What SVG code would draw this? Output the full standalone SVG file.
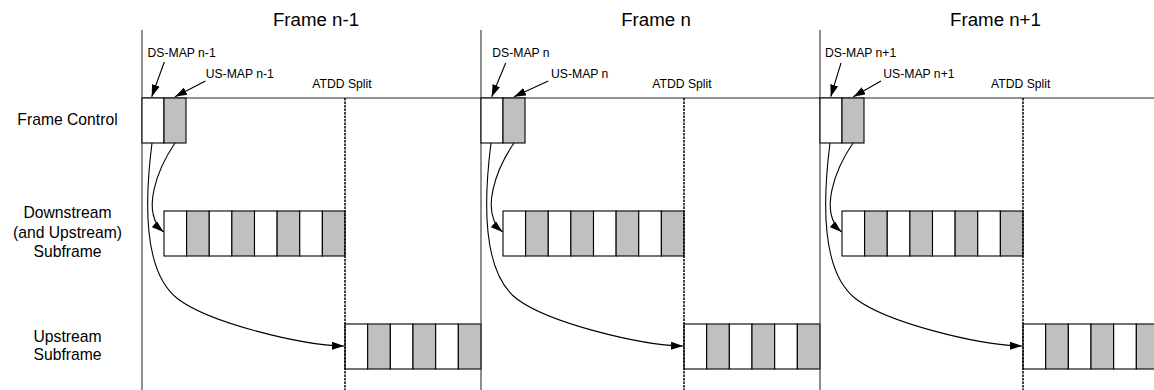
<svg xmlns="http://www.w3.org/2000/svg" width="1154" height="390" viewBox="0 0 1154 390">
<defs>
<marker id="ah" viewBox="0 0 12 8" refX="12" refY="4" markerWidth="12" markerHeight="8" markerUnits="userSpaceOnUse" orient="auto">
<path d="M0,0 L12,4 L0,8 z" fill="#000"/>
</marker>
</defs>
<style>
text{font-family:"Liberation Sans",Arial,sans-serif;fill:#000}
.title{font-size:18.7px;text-anchor:middle}
.row{font-size:15.7px;text-anchor:middle}
.lbl{font-size:12.2px}
.frame{stroke:#444;stroke-width:1.2;fill:none}
.axis{stroke:#6e6e6e;stroke-width:1.4;fill:none}
.split{stroke:#000;stroke-width:1.5;stroke-dasharray:2.5,1;fill:none}
.w{fill:#fff;stroke:#000;stroke-width:1.1}
.g{fill:#c0c0c0;stroke:#000;stroke-width:1.1}
.conn{stroke:#000;stroke-width:1.1;fill:none;marker-end:url(#ah)}
</style>
<rect width="1154" height="390" fill="#fff"/>

<g id="row-labels">
<text class="row" x="67.5" y="125">Frame Control</text>
<text class="row" x="67.5" y="218.3">Downstream</text>
<text class="row" x="67.5" y="237.7">(and Upstream)</text>
<text class="row" x="67.5" y="256.7">Subframe</text>
<text class="row" x="67.5" y="341.7">Upstream</text>
<text class="row" x="67.5" y="360">Subframe</text>
</g>

<g id="axis">
<line class="axis" x1="142" y1="98" x2="1154" y2="98"/>
</g>

<g id="frame-n-1">
<line class="frame" x1="142" y1="30" x2="142" y2="390"/>
<text class="title" x="316" y="25.7">Frame n-1</text>
<text class="lbl" x="147.5" y="57">DS-MAP n-1</text>
<text class="lbl" x="205.7" y="77.5">US-MAP n-1</text>
<text class="lbl" x="312.3" y="88.3">ATDD Split</text>
<g id="fc-n-1">
<rect class="w" x="142" y="98" width="22" height="45"/>
<rect class="g" x="164" y="98" width="22" height="45"/>
</g>
<g id="ds-n-1">
<rect class="w" x="164" y="211" width="22.625" height="45"/>
<rect class="g" x="186.625" y="211" width="22.625" height="45"/>
<rect class="w" x="209.25" y="211" width="22.625" height="45"/>
<rect class="g" x="231.875" y="211" width="22.625" height="45"/>
<rect class="w" x="254.5" y="211" width="22.625" height="45"/>
<rect class="g" x="277.125" y="211" width="22.625" height="45"/>
<rect class="w" x="299.75" y="211" width="22.625" height="45"/>
<rect class="g" x="322.375" y="211" width="22.625" height="45"/>
</g>
<g id="us-n-1">
<rect class="w" x="345" y="324" width="22.667" height="45"/>
<rect class="g" x="367.667" y="324" width="22.667" height="45"/>
<rect class="w" x="390.333" y="324" width="22.667" height="45"/>
<rect class="g" x="413" y="324" width="22.667" height="45"/>
<rect class="w" x="435.667" y="324" width="22.667" height="45"/>
<rect class="g" x="458.333" y="324" width="22.667" height="45"/>
</g>
<line class="split" x1="345" y1="98" x2="345" y2="390"/>
</g>

<g id="frame-n">
<line class="frame" x1="481" y1="30" x2="481" y2="390"/>
<text class="title" x="656" y="25.7">Frame n</text>
<text class="lbl" x="492.3" y="57">DS-MAP n</text>
<text class="lbl" x="551" y="77.5">US-MAP n</text>
<text class="lbl" x="652.3" y="88.3">ATDD Split</text>
<g id="fc-n">
<rect class="w" x="481" y="98" width="22" height="45"/>
<rect class="g" x="503" y="98" width="22" height="45"/>
</g>
<g id="ds-n">
<rect class="w" x="503" y="211" width="22.625" height="45"/>
<rect class="g" x="525.625" y="211" width="22.625" height="45"/>
<rect class="w" x="548.25" y="211" width="22.625" height="45"/>
<rect class="g" x="570.875" y="211" width="22.625" height="45"/>
<rect class="w" x="593.5" y="211" width="22.625" height="45"/>
<rect class="g" x="616.125" y="211" width="22.625" height="45"/>
<rect class="w" x="638.75" y="211" width="22.625" height="45"/>
<rect class="g" x="661.375" y="211" width="22.625" height="45"/>
</g>
<g id="us-n">
<rect class="w" x="684" y="324" width="22.667" height="45"/>
<rect class="g" x="706.667" y="324" width="22.667" height="45"/>
<rect class="w" x="729.333" y="324" width="22.667" height="45"/>
<rect class="g" x="752" y="324" width="22.667" height="45"/>
<rect class="w" x="774.667" y="324" width="22.667" height="45"/>
<rect class="g" x="797.333" y="324" width="22.667" height="45"/>
</g>
<line class="split" x1="684" y1="98" x2="684" y2="390"/>
</g>

<g id="frame-n1">
<line class="frame" x1="820" y1="30" x2="820" y2="390"/>
<text class="title" x="995.5" y="25.7">Frame n+1</text>
<text class="lbl" x="825" y="57">DS-MAP n+1</text>
<text class="lbl" x="883.3" y="77.5">US-MAP n+1</text>
<text class="lbl" x="991" y="88.3">ATDD Split</text>
<g id="fc-n1">
<rect class="w" x="820" y="98" width="22" height="45"/>
<rect class="g" x="842" y="98" width="22" height="45"/>
</g>
<g id="ds-n1">
<rect class="w" x="842" y="211" width="22.625" height="45"/>
<rect class="g" x="864.625" y="211" width="22.625" height="45"/>
<rect class="w" x="887.25" y="211" width="22.625" height="45"/>
<rect class="g" x="909.875" y="211" width="22.625" height="45"/>
<rect class="w" x="932.5" y="211" width="22.625" height="45"/>
<rect class="g" x="955.125" y="211" width="22.625" height="45"/>
<rect class="w" x="977.75" y="211" width="22.625" height="45"/>
<rect class="g" x="1000.375" y="211" width="22.625" height="45"/>
</g>
<g id="us-n1">
<rect class="w" x="1023" y="324" width="22.667" height="45"/>
<rect class="g" x="1045.667" y="324" width="22.667" height="45"/>
<rect class="w" x="1068.333" y="324" width="22.667" height="45"/>
<rect class="g" x="1091" y="324" width="22.667" height="45"/>
<rect class="w" x="1113.667" y="324" width="22.667" height="45"/>
<rect class="g" x="1136.333" y="324" width="22.667" height="45"/>
</g>
<line class="split" x1="1023" y1="98" x2="1023" y2="390"/>
</g>

<g id="connectors">
<line class="conn" x1="164.3" y1="62" x2="151.7" y2="96.7"/>
<line class="conn" x1="205.5" y1="81" x2="175" y2="96.7"/>
<line class="conn" x1="505.7" y1="63" x2="491.7" y2="96.7"/>
<line class="conn" x1="548.3" y1="81" x2="514" y2="96.7"/>
<line class="conn" x1="841" y1="63" x2="830.7" y2="96.7"/>
<line class="conn" x1="881" y1="81" x2="853.3" y2="96.7"/>
<g>
<path class="conn" d="M152,143 C146,190 140,270 178,299 C210,323 300,345 344,346"/>
<path class="conn" d="M175,143 C158,168 140,212 163.5,232"/>
</g>
<g transform="translate(339,0)">
<path class="conn" d="M152,143 C146,190 140,270 178,299 C210,323 300,345 344,346"/>
<path class="conn" d="M175,143 C158,168 140,212 163.5,232"/>
</g>
<g transform="translate(678,0)">
<path class="conn" d="M152,143 C146,190 140,270 178,299 C210,323 300,345 344,346"/>
<path class="conn" d="M175,143 C158,168 140,212 163.5,232"/>
</g>
</g>
</svg>
